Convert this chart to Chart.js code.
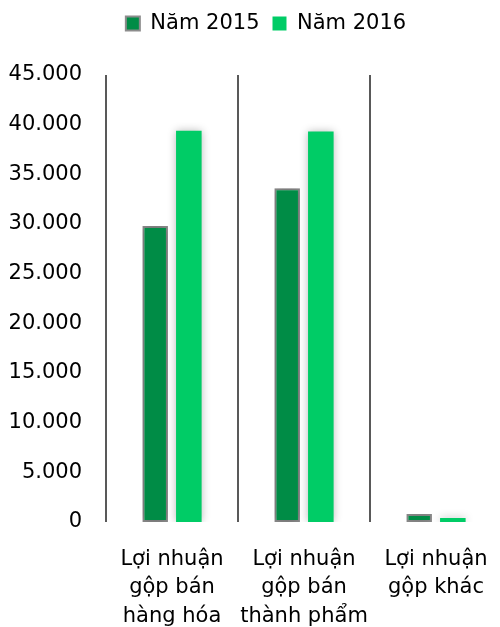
<!DOCTYPE html>
<html>
<head>
<meta charset="utf-8">
<script src="https://cdn.jsdelivr.net/npm/chart.js@4/dist/chart.umd.min.js"></script>
<style>
  html, body { margin: 0; padding: 0; background: #fff; overflow: hidden; }
  #wrap { width: 502px; height: 627px; }
</style>
</head>
<body>
<div id="wrap"><canvas id="chart" width="502" height="627"></canvas></div>
<script>
// Static data
const categories = [
    ["Lợi nhuận", "gộp bán", "hàng hóa"],
    ["Lợi nhuận", "gộp bán", "thành phẩm"],
    ["Lợi nhuận", "gộp khác"],
];
const seriesNames = ["Năm 2015", "Năm 2016"];
const values2015 = [29800, 33600, 800];
const values2016 = [39400, 39300, 400];
const yTicks = [0, 5000, 10000, 15000, 20000, 25000, 30000, 35000, 40000, 45000];

const fontFamily = "'DejaVu Sans', Verdana, sans-serif";

const formatThousands = (v) => String(v).replace(/\B(?=(\d{3})+(?!\d))/g, ".");

// soft glow behind the bars
const barShadow = {
    id: "barShadow",
    beforeDatasetsDraw(chart) {
        const ctx = chart.ctx;
        ctx.save();
        ctx.shadowColor = "rgba(0, 0, 0, 0.28)";
        ctx.shadowBlur = 9;
        ctx.shadowOffsetX = 0;
        ctx.shadowOffsetY = 0;
    },
    afterDatasetsDraw(chart) {
        chart.ctx.restore();
    },
};

// legend: room below it, and nudged right over the plot
const legendSpace = {
    id: "legendSpace",
    beforeInit(chart) {
        const fit = chart.legend.fit;
        chart.legend.fit = function () {
            fit.call(this);
            this.height = 75;
        };
    },
    afterLayout(chart) {
        chart.legend.left += 15;
        chart.legend.right += 15;
    },
};

const ctx = document.getElementById("chart");

new Chart(ctx, {
    type: "bar",
    data: {
        labels: categories,
        datasets: [
            {
                label: seriesNames[0],
                data: values2015,
                backgroundColor: "#008C46",
                borderColor: "#8C8C8C",
                borderWidth: 2,
                borderSkipped: false,
                categoryPercentage: 0.51,
                barPercentage: 0.76,
            },
            {
                label: seriesNames[1],
                data: values2016,
                backgroundColor: "#00CC66",
                borderWidth: 0,
                categoryPercentage: 0.51,
                barPercentage: 0.76,
            },
        ],
    },
    options: {
        responsive: false,
        animation: false,
        devicePixelRatio: 1,
        layout: {
            padding: 0,
        },
        scales: {
            y: {
                min: 0,
                max: 45000,
                afterBuildTicks: (scale) => {
                    scale.ticks = yTicks.map((v) => ({ value: v }));
                },
                afterFit: (scale) => {
                    scale.width = 106;
                },
                grid: { display: false, drawTicks: false },
                border: { display: false },
                ticks: {
                    padding: 24,
                    color: "#000",
                    font: { family: fontFamily, size: 21 },
                    callback: (v) => formatThousands(v),
                },
            },
            x: {
                afterFit: (scale) => {
                    scale.height = 105;
                    scale.paddingLeft = 0;
                    scale.paddingRight = 0;
                },
                grid: {
                    offset: true,
                    color: "#595959",
                    lineWidth: 2,
                    drawTicks: false,
                },
                border: { display: false },
                ticks: {
                    padding: 23,
                    maxRotation: 0,
                    autoSkip: false,
                    color: "#000",
                    font: { family: fontFamily, size: 21, lineHeight: 1.36 },
                },
            },
        },
        plugins: {
            legend: {
                position: "top",
                labels: {
                    boxWidth: 14,
                    boxHeight: 14,
                    padding: 13,
                    color: "#000",
                    font: { family: fontFamily, size: 21 },
                },
            },
            tooltip: { enabled: false },
        },
    },
    plugins: [barShadow, legendSpace],
});
</script>
</body>
</html>
